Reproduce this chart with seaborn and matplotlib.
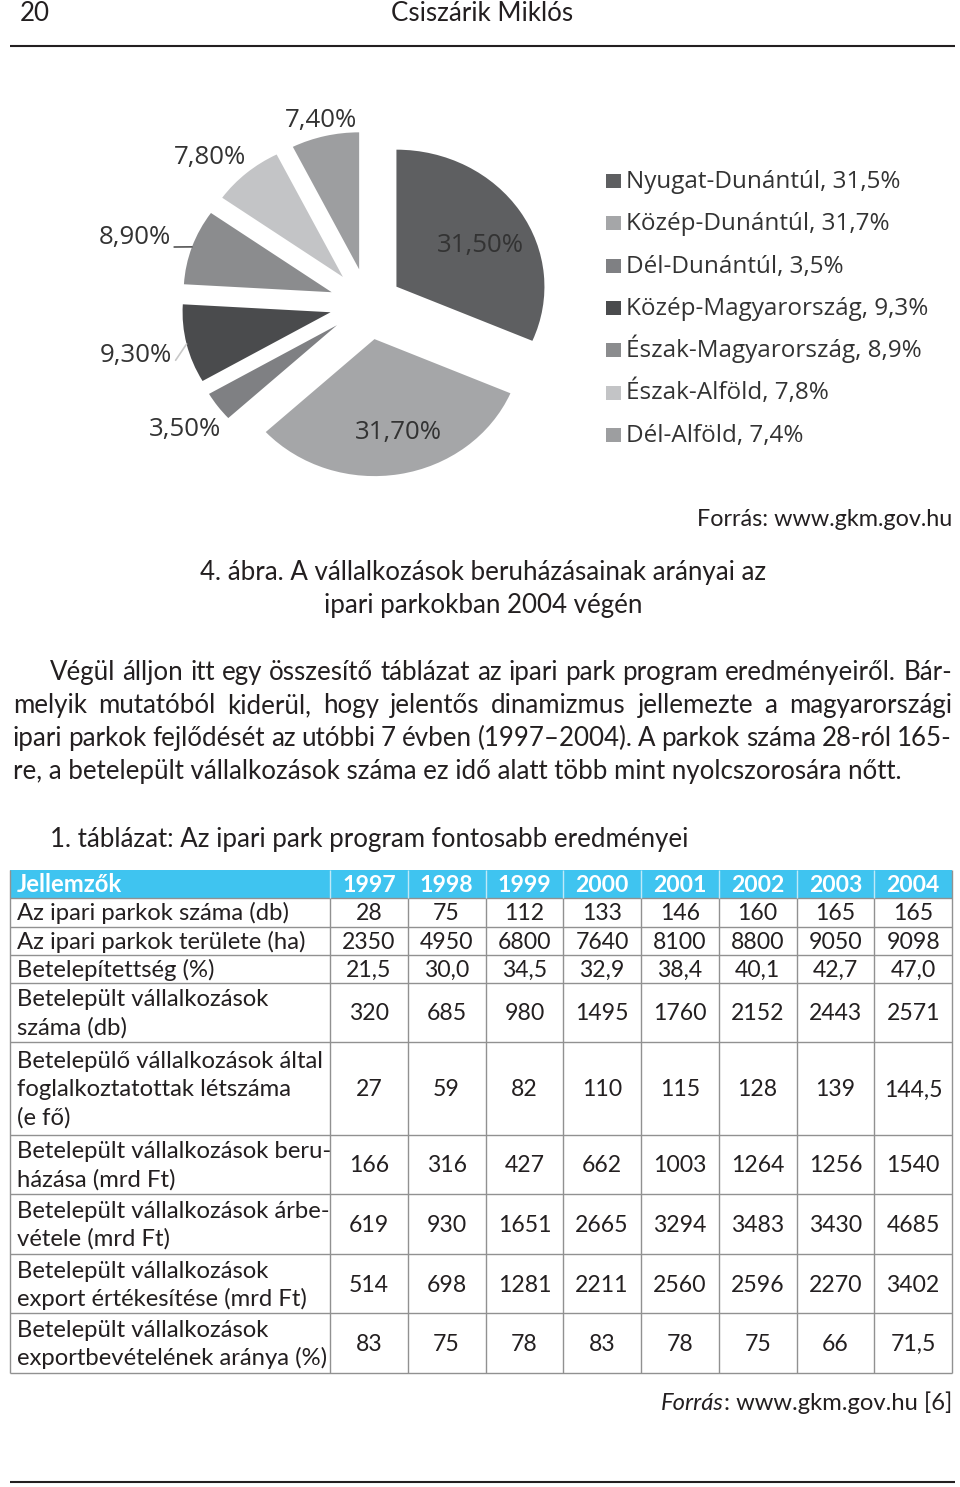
import numpy as np
import pandas as pd
import matplotlib
matplotlib.use("Agg")
import matplotlib.pyplot as plt
from matplotlib.patches import Rectangle
import seaborn as sns

# alap stílus
sns.set_theme(style="white")
plt.rcParams['font.family'] = ['Lato', 'DejaVu Sans']

W, H = 960, 1487

# --- 4. ábra adatai ---
regions = ["Nyugat-Dunántúl", "Közép-Dunántúl", "Dél-Dunántúl", "Közép-Magyarország",
           "Észak-Magyarország", "Észak-Alföld", "Dél-Alföld"]
shares = [31.5, 31.7, 3.5, 9.3, 8.9, 7.8, 7.4]
pie_colors = ["#5e5f61", "#a5a6a8", "#7f8083", "#4a4b4d", "#8b8c8e", "#c3c4c6", "#9d9ea0"]

# --- 1. táblázat adatai ---
years = [1997, 1998, 1999, 2000, 2001, 2002, 2003, 2004]
row_labels = [
    "Az ipari parkok száma (db)",
    "Az ipari parkok területe (ha)",
    "Betelepítettség (%)",
    "Betelepült vállalkozások\nszáma (db)",
    "Betelepülő vállalkozások által\nfoglalkoztatottak létszáma\n(e fő)",
    "Betelepült vállalkozások beru-\nházása (mrd Ft)",
    "Betelepült vállalkozások árbe-\nvétele (mrd Ft)",
    "Betelepült vállalkozások\nexport értékesítése (mrd Ft)",
    "Betelepült vállalkozások\nexportbevételének aránya (%)",
]
parks_count = [28, 75, 112, 133, 146, 160, 165, 165]
parks_area = [2350, 4950, 6800, 7640, 8100, 8800, 9050, 9098]
occupancy = [21.5, 30.0, 34.5, 32.9, 38.4, 40.1, 42.7, 47.0]
firms = [320, 685, 980, 1495, 1760, 2152, 2443, 2571]
employed = [27, 59, 82, 110, 115, 128, 139, 144.5]
investment = [166, 316, 427, 662, 1003, 1264, 1256, 1540]
revenue = [619, 930, 1651, 2665, 3294, 3483, 3430, 4685]
export_sales = [514, 698, 1281, 2211, 2560, 2596, 2270, 3402]
export_share = [83, 75, 78, 83, 78, 75, 66, 71.5]

table = pd.DataFrame([parks_count, parks_area, occupancy, firms, employed,
                      investment, revenue, export_sales, export_share],
                     index=row_labels, columns=years)

paragraph = [
    "Végül álljon itt egy összesítő táblázat az ipari park program eredményeiről. Bár-",
    "melyik mutatóból kiderül, hogy jelentős dinamizmus jellemezte a magyarországi",
    "ipari parkok fejlődését az utóbbi 7 évben (1997–2004). A parkok száma 28-ról 165-",
    "re, a betelepült vállalkozások száma ez idő alatt több mint nyolcszorosára nőtt.",
]

BODY = 18.6      # folyószöveg
LBL = 17.2       # táblázat első oszlop
NUM = 16.6       # táblázat számok
SRC = 17.1       # forrás sorok
DARK = "#231f20"


def hu(v, decimals=None):
    if decimals is not None:
        return f"{v:.{decimals}f}".replace(".", ",")
    if float(v).is_integer():
        return str(int(v))
    return str(v).replace(".", ",")


fig = plt.figure(figsize=(W / 100, H / 100), dpi=100)
page = fig.add_axes([0, 0, 1, 1])
page.set_xlim(0, W)
page.set_ylim(H, 0)
page.axis("off")
renderer = fig.canvas.get_renderer()

# fejléc
page.text(20, 21, "20", fontsize=BODY, color=DARK)
page.text(482, 21, "Csiszárik Miklós", fontsize=BODY, color=DARK, ha="center")
page.hlines(46, 10, 955, color=DARK, lw=1.5)

# --- kördiagram ---
cx, cy, rx, ry = 368, 304, 148, 137
px0, py0, px1, py1 = 60, 85, 580, 495
ax = fig.add_axes([px0 / W, 1 - py1 / H, (px1 - px0) / W, (py1 - py0) / H])
explode = [0.23, 0.26, 0.26, 0.26, 0.26, 0.26, 0.26]
wedges, _ = ax.pie(shares, explode=explode, colors=pie_colors, startangle=90,
                   counterclock=False, wedgeprops=dict(linewidth=0))
ax.set_aspect("auto")
ax.set_xlim((px0 - cx) / rx, (px1 - cx) / rx)
ax.set_ylim((cy - py1) / ry, (cy - py0) / ry)
ax.patch.set_visible(False)

label_dist = [0.87, 0.96, 1.54, 1.61, 1.65, 1.51, 1.38]
label_turn = [-3.7, 2.7, 0, 0, 2.1, 4.4, 0]
pie_font = dict(family=["Open Sans", "DejaVu Sans"], size=18.6, color="#333333")
for i, (w, s) in enumerate(zip(wedges, shares)):
    mid = np.deg2rad((w.theta1 + w.theta2) / 2)
    lab_ang = mid + np.deg2rad(label_turn[i])
    pos = (label_dist[i] * np.cos(lab_ang), label_dist[i] * np.sin(lab_ang))
    lab = hu(s, 2) + "%"
    if regions[i] in ("Közép-Magyarország", "Észak-Magyarország"):
        edge = (1 + explode[i]) * np.cos(mid), (1 + explode[i]) * np.sin(mid)
        lc = "#c8c8c8" if regions[i] == "Közép-Magyarország" else "#555555"
        ax.annotate(lab, xy=edge, xytext=pos, ha="center", va="center", **pie_font,
                    arrowprops=dict(arrowstyle="-", color=lc, lw=1.2,
                                    relpos=(1, 0.1), shrinkA=0, shrinkB=0))
    else:
        ax.text(pos[0], pos[1], lab, ha="center", va="center", **pie_font)

# jelmagyarázat (egyenletes sorközzel)
for i, (w, r, s) in enumerate(zip(wedges, regions, shares)):
    yc = 181 + 42.3 * i
    page.add_patch(Rectangle((606, yc - 7), 15, 14, color=w.get_facecolor(), lw=0))
    page.text(626, yc + 7, f"{r}, {hu(s, 1)}%", fontsize=17.5, color="#333333",
              family=["Open Sans", "DejaVu Sans"])

# forrás, ábracím
page.text(952, 526, "Forrás: www.gkm.gov.hu", fontsize=16.8, color=DARK, ha="right")
page.text(483, 580, "4. ábra. A vállalkozások beruházásainak arányai az",
          fontsize=BODY, color=DARK, ha="center")
page.text(483, 613, "ipari parkokban 2004 végén", fontsize=BODY, color=DARK, ha="center")


# sorkizárt bekezdés
def justified(text, x0, x1, y, justify=True):
    if not justify:
        page.text(x0, y, text, fontsize=BODY, color=DARK)
        return
    words = text.split(" ")
    arts = [page.text(0, y, w, fontsize=BODY, color=DARK) for w in words]
    widths = [a.get_window_extent(renderer).width for a in arts]
    gap = (x1 - x0 - sum(widths)) / (len(words) - 1)
    x = x0
    for a, wd in zip(arts, widths):
        a.set_x(x)
        x += wd + gap


for k, line in enumerate(paragraph):
    justified(line, 50 if k == 0 else 13, 952, 680 + 33 * k, justify=k < len(paragraph) - 1)

page.text(50, 847, "1. táblázat: Az ipari park program fontosabb eredményei",
          fontsize=BODY, color=DARK)

# --- táblázat ---
t_left, t_right, c0_right, t_top = 10, 952, 330, 870
header_h = 28
row_h = [29, 28, 28, 59, 93, 59, 60, 59, 60]
col_edges = np.linspace(c0_right, t_right, len(years) + 1)
row_edges = t_top + header_h + np.concatenate([[0], np.cumsum(row_h)])
grid = "#919191"
blue = "#3fc4f0"

page.add_patch(Rectangle((t_left, t_top), t_right - t_left, header_h, color=blue, lw=0))
page.text(17, t_top + header_h / 2 + 8, "Jellemzők", fontsize=LBL, color="white",
          fontweight="bold")
for j, yr in enumerate(years):
    xc = (col_edges[j] + col_edges[j + 1]) / 2
    page.text(xc, t_top + header_h / 2 + 8, str(yr), fontsize=NUM, color="white",
              fontweight="bold", ha="center")

page.hlines(row_edges, t_left, t_right, color=grid, lw=1)
page.vlines([t_left, t_right], t_top, row_edges[-1], color=grid, lw=1)
page.vlines(col_edges[:-1], row_edges[0], row_edges[-1], color=grid, lw=1)
page.vlines(col_edges[:-1], t_top, row_edges[0], color="#bfe9f8", lw=1)

LINE = 28
for i, (label, row) in enumerate(table.iterrows()):
    yc = (row_edges[i] + row_edges[i + 1]) / 2
    lines = label.split("\n")
    for n, ln in enumerate(lines):
        yl = yc + (n - (len(lines) - 1) / 2) * LINE
        page.text(17, yl + 8, ln, fontsize=LBL, color=DARK)
    for j, v in enumerate(row.values):
        xc = (col_edges[j] + col_edges[j + 1]) / 2
        txt = hu(v, 1) if i == 2 else hu(v)
        page.text(xc, yc + 8, txt, fontsize=NUM, color=DARK, ha="center")

# forrás (dőlt "Forrás")
src = page.text(952, 1410, ": www.gkm.gov.hu [6]", fontsize=SRC, color=DARK, ha="right")
sw = src.get_window_extent(renderer).width
page.text(952 - sw, 1410, "Forrás", fontsize=SRC, color=DARK, ha="right", style="italic")

page.hlines(1482, 10, 955, color=DARK, lw=1.5)

fig.savefig("out.png", dpi=100)
